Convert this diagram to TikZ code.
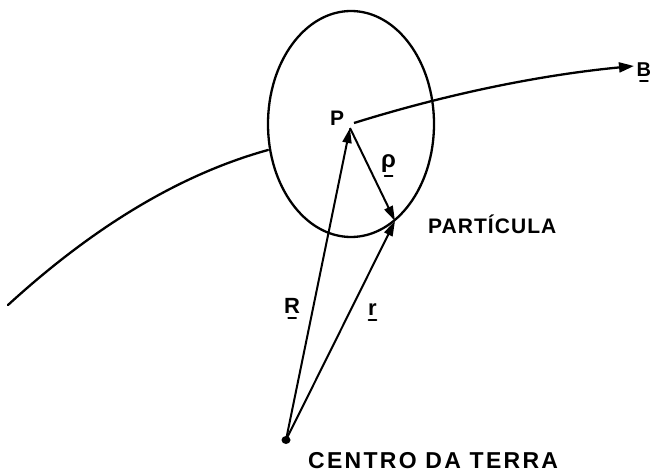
\documentclass[tikz,border=0pt]{standalone}
\usepackage{fontspec}
\setmainfont{Liberation Sans}[BoldFont={Liberation Sans Bold}]
\newfontfamily\labfont[LetterSpace=5]{Liberation Sans Bold}
\newfontfamily\labfontw[LetterSpace=10]{Liberation Sans Bold}
\usetikzlibrary{arrows.meta}
\begin{document}
\begin{tikzpicture}[x=1pt,y=-1pt,
  curve/.style={line width=2.3pt,line cap=round},
  vec/.style={line width=2pt,-{Triangle[length=15pt,width=9pt]}},
  lab/.style={inner sep=0pt,font=\fontsize{21}{21}\selectfont\bfseries},
  tild/.style={line width=1.6pt,line cap=round}]
\useasboundingbox (0,0) rectangle (651,474);
% ellipse
\draw[curve] (351,124) ellipse [x radius=83, y radius=113];
% trajectory
\coordinate (S) at (8,305);
\coordinate (E) at (268,150);
\coordinate (P) at (350,128);
\coordinate (Pt) at (354,123);
\coordinate (Bt) at (634,66);
\coordinate (O) at (286,440);
\coordinate (Q) at (395,221);
\draw[curve] (S) .. controls (94.7,225.7) and (181.3,174) .. (E);
\draw[line width=2.3pt,-{Triangle[length=15pt,width=10pt]}] (Pt) .. controls (447,94) and (540,75) .. (Bt);
% vectors
\draw[vec] (O) -- (P);
\draw[vec] (O) -- (Q);
\draw[vec] (P) -- (Q);
% earth
\fill (O) ellipse [x radius=4.5, y radius=4];
% labels
\node[lab,anchor=base west] (lP) at (330,125) {P};
\node[lab,font=\fontsize{24}{24}\selectfont\bfseries,anchor=base west] (lrho) at (381,167) {ρ};
\draw[tild] ([xshift=-4pt,yshift=-4pt]lrho.south) -- ++(8pt,0);
\node[lab,font=\fontsize{22}{22}\selectfont\bfseries,anchor=base west] (lR) at (284,313) {R};
\draw[tild] ([xshift=-4pt,yshift=-5pt]lR.south) -- ++(8pt,0);
\node[lab,font=\fontsize{22}{22}\selectfont\bfseries,anchor=base west] (lr) at (368,315) {r};
\draw[tild] ([xshift=-4pt,yshift=-5pt]lr.south) -- ++(8pt,0);
\node[lab,font=\fontsize{20}{20}\selectfont\bfseries,anchor=base west] (lB) at (636.5,76) {B};
\draw[tild] ([xshift=-4pt,yshift=-5pt]lB.south) -- ++(8pt,0);
\node[lab,font=\fontsize{21}{21}\selectfont\labfont,anchor=base west] (lpart) at (428,233) {PARTÍCULA};
\node[lab,font=\fontsize{23}{23}\selectfont\labfontw,anchor=base west] (lcentro) at (308,468) {CENTRO DA TERRA};
\end{tikzpicture}
\end{document}
